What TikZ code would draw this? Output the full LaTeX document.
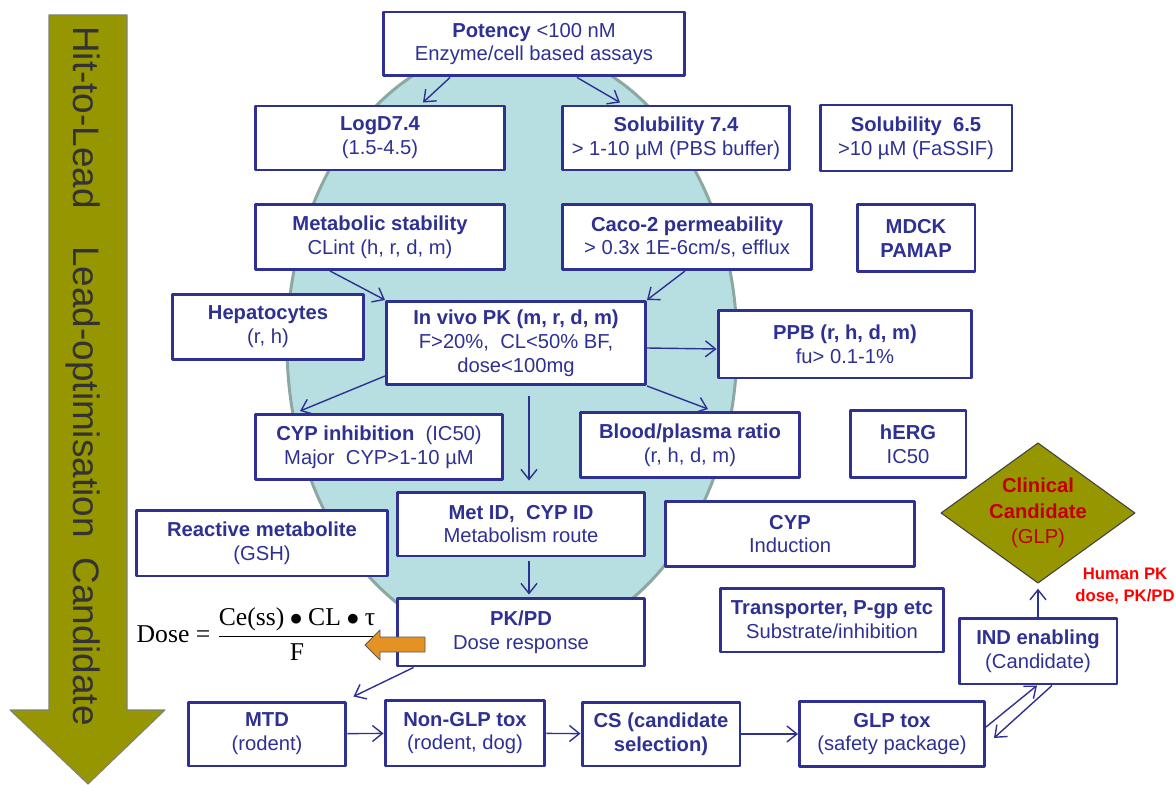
\documentclass[tikz,border=0pt]{standalone}
\usepackage{fontspec}
\setmainfont{Liberation Sans}
\newfontfamily\tnr{Liberation Serif}
\usetikzlibrary{arrows.meta,shapes.geometric}
\definecolor{boxblue}{RGB}{46,49,146}
\definecolor{leadolive}{RGB}{150,150,0}
\definecolor{cellfill}{RGB}{183,222,225}
\definecolor{cellline}{RGB}{140,168,160}
\definecolor{ccred}{RGB}{192,0,0}
\definecolor{notered}{RGB}{255,0,0}
\definecolor{doseorange}{RGB}{228,146,34}
\definecolor{stagetext}{RGB}{51,51,51}
\begin{document}
\begin{tikzpicture}[x=0.02cm,y=-0.02cm,font=\fontsize{11.5}{13.6}\selectfont, line join=round, >={Straight Barb[length=2mm,width=3.2mm]},
	box/.style={rectangle,draw=boxblue,line width=1.7pt,fill=white,text=boxblue,align=center,inner sep=1pt},
	arr/.style={->,boxblue,line width=0.8pt}]
	\useasboundingbox (0,0) rectangle (1176,784);
	\draw[fill=cellfill,draw=cellline,line width=1.7pt] (512,345) ellipse [x radius=225,y radius=300];
	\draw[draw=gray,fill=leadolive,line width=0.6pt] (49,15)--(127,15)--(127,710)--(165,710)--(88,784)--(10,710)--(49,710)--cycle;
	\node[rotate=-90,anchor=base,text=stagetext,font=\fontsize{21}{24}\selectfont] (stage) at (73,376) {Hit-to-Lead\hspace{21.5pt}Lead-optimisation\hspace{11.3pt}Candidate};
	\path (534,44)node[box,minimum width=6.04cm,minimum height=1.28cm](potency){\textbf{Potency} <100 nM\\Enzyme/cell based assays}
	(potency)++(-154,94)node[box,minimum width=5cm,minimum height=1.28cm](logd){\textbf{LogD7.4}\\(1.5-4.5)}
	(potency)++(142,94)node[box,minimum width=4.56cm,minimum height=1.28cm](sol74){\textbf{Solubility 7.4}\\> 1-10 µM (PBS buffer)}
	(sol74)++(240,0)node[box,minimum width=3.84cm,minimum height=1.32cm](sol65){\textbf{Solubility\ \ 6.5}\\>10 µM (FaSSIF)};
	\path
	(logd)++(0,99)node[box,minimum width=5cm,minimum height=1.3cm](metstab){\textbf{Metabolic stability}\\CLint (h, r, d, m)}
	(sol74)++(11,99)node[box,minimum width=5cm,minimum height=1.3cm](caco){\textbf{Caco-2 permeability}\\> 0.3x 1E-6cm/s, efflux}
	(sol65)++(0,100)node[box,minimum width=2.36cm,minimum height=1.34cm](mdck){\textbf{MDCK}\\\textbf{PAMAP}};
	\path
	(metstab)++(-112,90)node[box,minimum width=3.84cm,minimum height=1.3cm](hepato){\textbf{Hepatocytes}\\(r, h)}
	(metstab)++(136,106)node[box,minimum width=5.18cm,minimum height=1.66cm](invivo){\textbf{In vivo PK (m, r, d, m)}\\F>20\%,\ \ CL<50\% BF,\\dose<100mg}
	(invivo)++(329,1)node[box,minimum width=5.08cm,minimum height=1.36cm](ppb){\textbf{PPB (r, h, d, m)}\\fu> 0.1-1\%};
	\path
	(metstab)++(-1,210)node[box,minimum width=4.96cm,minimum height=1.3cm](cypinh){\textbf{CYP inhibition}\ \ (IC50)\\Major\ \ CYP>1-10 µM}
	(caco)++(3,208)node[box,minimum width=4.4cm,minimum height=1.3cm](blood){\textbf{Blood/plasma ratio}\\(r, h, d, m)}
	(mdck)++(-8,206)node[box,minimum width=2.32cm,minimum height=1.34cm](herg){\textbf{hERG}\\IC50};
	\path
	(invivo)++(5,181)node[box,minimum width=4.96cm,minimum height=1.28cm](metid){\textbf{Met ID,\ \ CYP ID}\\Metabolism route}
	(hepato)++(-6,216)node[box,minimum width=5.02cm,minimum height=1.32cm](reactive){\textbf{Reactive metabolite}\\(GSH)}
	(blood)++(100,89)node[box,minimum width=5cm,minimum height=1.3cm](cypind){\textbf{CYP}\\Induction}
	(cypind)++(42,86)node[box,minimum width=4.46cm,minimum height=1.28cm](transp){\textbf{Transporter, P-gp etc}\\Substrate/inhibition}
	(metid)++(0,108)node[box,minimum width=4.96cm,minimum height=1.36cm](pkpd){\textbf{PK/PD}\\Dose response};
	\node[diamond,aspect=1.384,draw=darkgray,line width=0.6pt,fill=leadolive,inner sep=0pt,minimum width=3.82cm,minimum height=2.76cm,align=center,text=ccred,font=\fontsize{11.5}{14.5}\selectfont] (cc) at (1038,513) {\textbf{Clinical}\\\textbf{Candidate}\\(GLP)};
	\path
	(cc)++(0,138)node[box,minimum width=3.16cm,minimum height=1.32cm](ind){\textbf{IND enabling}\\(Candidate)}
	(267,734)node[box,minimum width=3.16cm,minimum height=1.28cm](mtd){\textbf{MTD}\\(rodent)}
	(mtd)++(198,-1)node[box,minimum width=3.2cm,minimum height=1.32cm](nonglp){\textbf{Non-GLP tox}\\(rodent, dog)}
	(mtd)++(394,0)node[box,minimum width=3.16cm,minimum height=1.28cm](cs){\textbf{CS (candidate}\\\textbf{selection)}}
	(mtd)++(625,0)node[box,minimum width=3.7cm,minimum height=1.3cm](glp){\textbf{GLP tox}\\(safety package)};
	\node[text=notered,font=\bfseries\fontsize{9.5}{12.5}\selectfont,align=center] (note) at (1125,586) {Human PK\\dose, PK/PD};
	\node[text=black,font=\tnr\fontsize{14.6}{17}\selectfont] (dose) at (257,634) {Dose = $\displaystyle\frac{\mbox{Ce(ss)}\bullet\mbox{CL}\bullet\mbox{τ}}{\mbox{F}}$};
	\draw[fill=doseorange,draw=gray!70!black,line width=0.5pt] (365,645)--(380,630)--(380,637)--(425,637)--(425,652)--(380,652)--(380,660)--cycle;
	\draw[arr]([xshift=-1.68cm]potency.south)--([xshift=0.86cm,yshift=0.04cm]logd.north);
	\draw[arr]([xshift=0.86cm]potency.south)--([xshift=-1.12cm,yshift=0.04cm]sol74.north);
	\draw[arr]([xshift=-1cm]metstab.south)--(invivo.north west);
	\draw[arr]([xshift=-0.04cm]caco.south)--(invivo.north east);
	\draw[arr]([yshift=-0.1cm]invivo.east)--([yshift=-0.1cm]ppb.west);
	\draw[arr]([yshift=0.2cm]invivo.south west)--([xshift=-1.58cm,yshift=0.04cm]cypinh.north);
	\draw[arr](invivo.south east)--([xshift=0.36cm,yshift=0.04cm]blood.north);
	\draw[arr]([xshift=0.26cm,yshift=-0.2cm]invivo.south)--([xshift=0.26cm,yshift=0.2cm]invivo.south|-metid.north);
	\draw[arr]([xshift=0.16cm,yshift=-0.08cm]metid.south)--([xshift=0.16cm,yshift=0.04cm]pkpd.north);
	\draw[arr]([xshift=0.36cm]pkpd.south west)--([xshift=0.12cm,yshift=0.08cm]mtd.north east);
	\draw[arr](mtd)--(nonglp);
	\draw[arr](nonglp)--(cs);
	\draw[arr](cs)--(glp);
	\draw[arr]([yshift=0.14cm]glp.east)--([xshift=-0.02cm]ind.south);
	\draw[arr]([xshift=0.28cm]ind.south)--([xshift=0.16cm,yshift=-0.08cm]glp.east);
	\draw[arr,shorten >=0.1cm](ind.north)--(cc.south);
\end{tikzpicture}
\end{document}
